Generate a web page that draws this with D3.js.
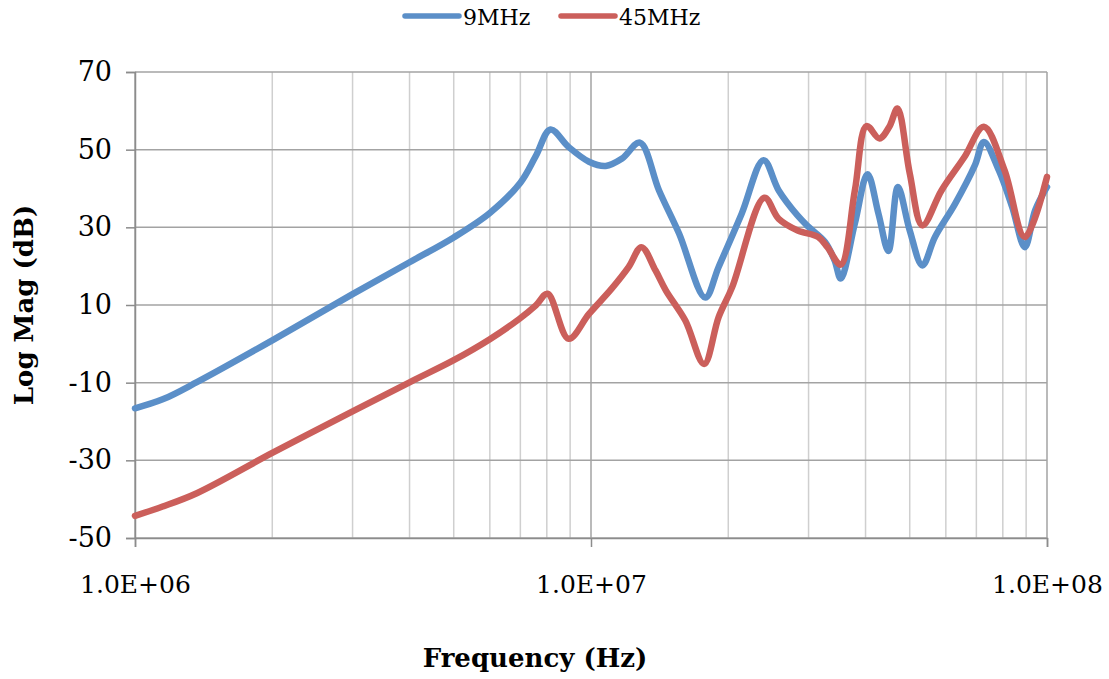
<!DOCTYPE html>
<html>
<head>
<meta charset="utf-8">
<script src="https://cdn.jsdelivr.net/npm/d3@7"></script>
<style>
  html, body { margin: 0; padding: 0; background: #fff; }
  svg { display: block; font-family: "DejaVu Serif", serif; }
</style>
</head>
<body>
<div id="chart"></div>
<script>
// frequencies in MHz, values in dB
const freq9 = [1, 1.15, 1.37, 2, 3, 4, 5, 6, 7, 7.57, 8.15, 8.93, 9.9, 10.77, 11.7, 12.8, 14.1, 15.6, 17.8, 19.05, 21.4, 23.9, 25.8, 28.4, 30, 32.6, 34.2, 35.3, 37.9, 40.4, 42.7, 44.9, 47.1, 50, 53.3, 56.8, 62.9, 69.5, 72.7, 78.4, 83.9, 89.4, 94.2, 100];
const mag9  = [-16.6, -14.3, -9.8, 0.9, 12.8, 21.0, 27.4, 33.7, 41.5, 48.4, 55.2, 50.7, 46.9, 45.8, 47.7, 51.8, 39.5, 28.4, 11.9, 19.8, 33.5, 47.3, 39.5, 33, 30.1, 26.2, 21.5, 16.8, 31.0, 43.7, 33.5, 23.9, 40.4, 29.2, 20.2, 27.5, 36.1, 46.0, 52.0, 44.7, 35.2, 24.9, 34.4, 40.4];

const freq45 = [1, 1.15, 1.37, 2, 3, 4, 5, 6, 6.96, 7.57, 8.03, 8.93, 9.9, 11.1, 12.1, 12.9, 13.85, 14.6, 16.1, 17.7, 19.05, 20.4, 24.0, 25.8, 28.4, 31.5, 33, 35.3, 37.9, 40.2, 42.9, 45.1, 47.0, 50, 53.3, 58.7, 65.9, 72.7, 80.7, 89.4, 100];
const mag45  = [-44.3, -41.9, -38.4, -28.1, -17.4, -9.9, -4.2, 1.2, 6.4, 9.9, 12.9, 1.3, 7.7, 14.2, 19.8, 24.9, 18.9, 13.7, 6.0, -5.2, 6.9, 14.6, 37.6, 32.2, 29.2, 27.5, 24.9, 20.4, 39.5, 56.1, 52.9, 55.9, 60.6, 43.9, 30.5, 39.5, 48.1, 55.9, 44.7, 27.5, 43.0];

const yTicks = [-50, -30, -10, 10, 30, 50, 70];
const xTicks = [1e6, 1e7, 1e8];
const xTickLabels = ["1.0E+06", "1.0E+07", "1.0E+08"];
const seriesNames = ["9MHz", "45MHz"];
const seriesColors = ["#5b8fc8", "#cb5f5b"];

const W = 1109, H = 679;
const m = { left: 135, right: 62, top: 72, bottom: 141 };

const svg = d3.select("#chart").append("svg")
  .attr("width", W).attr("height", H);

const x = d3.scaleLog().domain([1e6, 1e8]).range([m.left, W - m.right]);
const y = d3.scaleLinear().domain([-50, 70]).range([H - m.bottom, m.top]);

// minor vertical grid
const minor = [];
for (let d = 1e6; d < 1e8; d *= 10) {
  for (let k = 2; k <= 9; k++) minor.push(d * k);
}
svg.append("g").selectAll("line").data(minor).join("line")
  .attr("x1", d => x(d)).attr("x2", d => x(d))
  .attr("y1", y(-50)).attr("y2", y(70))
  .attr("stroke", "#cfcfcf").attr("stroke-width", 1.5);

// major vertical grid
svg.append("g").selectAll("line").data(xTicks).join("line")
  .attr("x1", d => x(d)).attr("x2", d => x(d))
  .attr("y1", y(-50)).attr("y2", y(70))
  .attr("stroke", "#a3a3a3").attr("stroke-width", 1.5);

// horizontal grid
svg.append("g").selectAll("line").data(yTicks).join("line")
  .attr("x1", m.left).attr("x2", W - m.right)
  .attr("y1", d => y(d)).attr("y2", d => y(d))
  .attr("stroke", "#a3a3a3").attr("stroke-width", 1.5);

// y axis
const yAxis = svg.append("g")
  .attr("transform", `translate(${m.left},0)`)
  .call(d3.axisLeft(y).tickValues(yTicks).tickSize(9).tickPadding(14)
    .tickFormat(d => String(d)));
yAxis.select(".domain").attr("stroke", "#8c8c8c").attr("stroke-width", 1.5);
yAxis.selectAll(".tick line").attr("stroke", "#8c8c8c").attr("stroke-width", 1.5);
yAxis.selectAll("text").attr("font-size", 27).attr("font-family", "DejaVu Serif").attr("fill", "#000");

// x axis
const xAxis = svg.append("g")
  .attr("transform", `translate(0,${y(-50)})`)
  .call(d3.axisBottom(x).tickValues(xTicks).tickSize(9).tickPadding(28)
    .tickFormat((d, i) => xTickLabels[i]));
xAxis.select(".domain").attr("stroke", "#8c8c8c").attr("stroke-width", 1.5);
xAxis.selectAll(".tick line").attr("stroke", "#8c8c8c").attr("stroke-width", 1.5);
xAxis.selectAll("text").attr("font-size", 25).attr("font-family", "DejaVu Serif").attr("fill", "#000");

// series
const line = d3.line()
  .x(d => x(d[0] * 1e6))
  .y(d => y(d[1]))
  .curve(d3.curveCatmullRom.alpha(0.5));

const series = [d3.zip(freq9, mag9), d3.zip(freq45, mag45)];
series.forEach((pts, i) => {
  svg.append("path")
    .attr("d", line(pts))
    .attr("fill", "none")
    .attr("stroke", seriesColors[i])
    .attr("stroke-width", 6.5)
    .attr("stroke-linejoin", "round")
    .attr("stroke-linecap", "round");
});

// axis titles
svg.append("text")
  .attr("x", 535).attr("y", 667)
  .attr("text-anchor", "middle")
  .attr("font-size", 26).attr("font-weight", "bold")
  .text("Frequency (Hz)");

svg.append("text")
  .attr("transform", `translate(33,${(m.top + H - m.bottom) / 2}) rotate(-90)`)
  .attr("text-anchor", "middle")
  .attr("font-size", 26).attr("font-weight", "bold")
  .text("Log Mag (dB)");

// legend
const legendX = [405, 561];
const legend = svg.append("g");
seriesNames.forEach((name, i) => {
  legend.append("line")
    .attr("x1", legendX[i]).attr("x2", legendX[i] + 54)
    .attr("y1", 16).attr("y2", 16)
    .attr("stroke", seriesColors[i]).attr("stroke-width", 5.5)
    .attr("stroke-linecap", "round");
  legend.append("text")
    .attr("x", legendX[i] + 58).attr("y", 25)
    .attr("font-size", 22)
    .text(name);
});
</script>
</body>
</html>
